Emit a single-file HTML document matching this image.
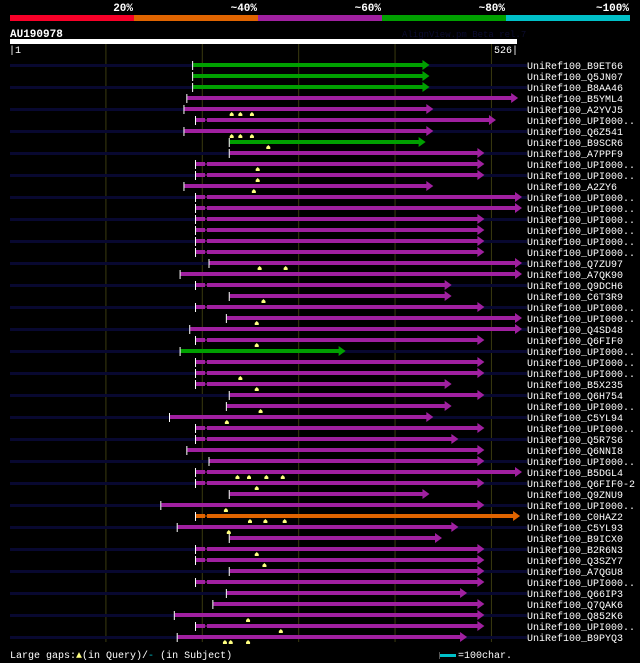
<!DOCTYPE html>
<html><head><meta charset="utf-8"><style>
html,body{margin:0;padding:0;background:#000;}
svg{display:block;font-family:"Liberation Mono","DejaVu Sans Mono",monospace;}
</style></head><body>
<svg id="chart" width="640" height="663" viewBox="0 0 640 663">
<rect x="0" y="0" width="640" height="663" fill="#000"/>
<g>
<rect x="10" y="15" width="124" height="6" fill="#f80028"/>
<rect x="134" y="15" width="124" height="6" fill="#e06400"/>
<rect x="258" y="15" width="124" height="6" fill="#a020a0"/>
<rect x="382" y="15" width="124" height="6" fill="#00a000"/>
<rect x="506" y="15" width="124" height="6" fill="#00c0c8"/>
<g fill="#fff" font-size="11" font-weight="bold" text-anchor="end">
<text x="133" y="11">20%</text>
<text x="257" y="11">~40%</text>
<text x="381" y="11">~60%</text>
<text x="505" y="11">~80%</text>
<text x="629" y="11">~100%</text>
</g></g>
<text x="10" y="37" fill="#fff" font-size="11" font-weight="bold">AU190978</text>
<text x="402" y="37" fill="#0c0c30" font-size="9">AlignView.pm Beta rel.7</text>
<rect x="10" y="39" width="507" height="5" fill="#fff"/>
<text x="9" y="53" fill="#fff" font-size="10">|1</text>
<text x="518" y="53" fill="#fff" font-size="10" text-anchor="end">526|</text>
<g id="grid"></g>
<g id="rows"></g>
<g>
<text x="10" y="658" fill="#fff" font-size="10">Large gaps:<tspan fill="#ffff80">▲</tspan>(in Query)/<tspan fill="#00c0c8">-</tspan> (in Subject)</text>
<rect x="439" y="652" width="1" height="7" fill="#555"/>
<rect x="440" y="654" width="16" height="3" fill="#00c0c8"/>
<text x="458" y="658" fill="#fff" font-size="10">=100char.</text>
</g>
</svg>
<script>
const names = ["B9ET66","Q5JN07","B8AA46","B5YML4","A2YVJ5","UPI000..","Q6Z541","B9SCR6","A7PPF9","UPI000..","UPI000..","A2ZY6","UPI000..","UPI000..","UPI000..","UPI000..","UPI000..","UPI000..","Q7ZU97","A7QK90","Q9DCH6","C6T3R9","UPI000..","UPI000..","Q4SD48","Q6FIF0","UPI000..","UPI000..","UPI000..","B5X235","Q6H754","UPI000..","C5YL94","UPI000..","Q5R7S6","Q6NNI8","UPI000..","B5DGL4","Q6FIF0-2","Q9ZNU9","UPI000..","C0HAZ2","C5YL93","B9ICX0","B2R6N3","Q3SZY7","A7QGU8","UPI000..","Q66IP3","Q7QAK6","Q852K6","UPI000..","B9PYQ3"];
const starts = [191,191,191,185,182,194,182,229,229,194,194,182,194,194,194,194,194,194,208,178,194,229,194,226,188,194,178,194,194,194,229,226,167,194,194,185,208,194,194,229,158,194,175,229,194,194,229,194,226,212,172,194,175];
const ends = [430,430,430,522,434,499,434,426,487,487,487,434,526,526,487,487,487,487,526,526,453,453,487,526,526,487,343,487,487,453,487,453,434,487,460,487,487,526,487,430,487,524,460,443,487,487,487,487,469,487,487,487,469];
const identity = ["g","g","g","m","m","m","m","g","m","m","m","m","m","m","m","m","m","m","m","m","m","m","m","m","m","m","g","m","m","m","m","m","m","m","m","m","m","m","m","m","m","o","m","m","m","m","m","m","m","m","m","m","m"];
const queryGaps = [[],[],[],[],[231,240,252],[],[231,240,252],[269],[],[258],[258],[254],[],[],[],[],[],[],[260,287],[],[],[264],[],[257],[],[257],[],[],[240],[257],[],[261],[226],[],[],[],[],[237,249,267,284],[257],[],[225],[250,266,286],[228],[],[257],[265],[],[],[],[],[248],[282],[224,230,248]];
const gridTicks = [100,200,300,400,500];
const queryLen = 526;

const NS="http://www.w3.org/2000/svg";
const X0=10, X1=516;
function xs(q){return X0+(q-1)*(X1-X0)/(queryLen-1);}
function ys(i){return 65+i*11;}
const colors={g:"#00a000",m:"#a020a0",o:"#e06400"};
function mk(tag,attrs,parent){const e=document.createElementNS(NS,tag);for(const k in attrs)e.setAttribute(k,attrs[k]);parent.appendChild(e);return e;}

const grid=document.getElementById('grid');
gridTicks.forEach(t=>{
  const l=mk('line',{x1:xs(t)+0.5,x2:xs(t)+0.5,y1:44,y2:642,stroke:'#3a3a10','stroke-width':1},grid);
  
  
});

const rows=document.getElementById('rows');
names.forEach((n,i)=>{
  const y=ys(i);
  const g=mk('g',{},rows);
  
  
  if(i%2===0){
    const bg=mk('rect',{x:10,y:y-1,width:517,height:3,fill:'#080830'},g);
    
    
  }
  const sx=xs(starts[i]), ex=xs(ends[i]), c=colors[identity[i]];
  const bar=mk('rect',{x:sx,y:y-2,width:ex-sx,height:4,fill:c},g);
  
  
  if(starts[i]<=195 && starts[i]>=193){
    const gp=mk('rect',{x:sx+9,y:y-2,width:2,height:4,fill:'#000'},g);
    
    
    const gl=mk('rect',{x:sx+9,y:y-0.5,width:2,height:1,fill:c},g);
    
    
  }
  const tk=mk('rect',{x:sx-1,y:y-4,width:1,height:9,fill:'#fff'},g);
  
  
  const ar=mk('polygon',{points:`${ex-1},${y-5} ${ex+6},${y} ${ex-1},${y+5}`,fill:c},g);
  
  
  queryGaps[i].forEach(q=>{
    const m=mk('polygon',{points:`${xs(q)-2},${y+7} ${xs(q)-2},${y+5} ${xs(q)},${y+3} ${xs(q)+2},${y+5} ${xs(q)+2},${y+7}`,fill:'#ffff80'},g);
    
    
  });
  const t=mk('text',{x:527,y:y+4,fill:'#fff','font-size':10},g);
  t.textContent='UniRef100_'+n;
  
  
});
</script>
</body></html>
